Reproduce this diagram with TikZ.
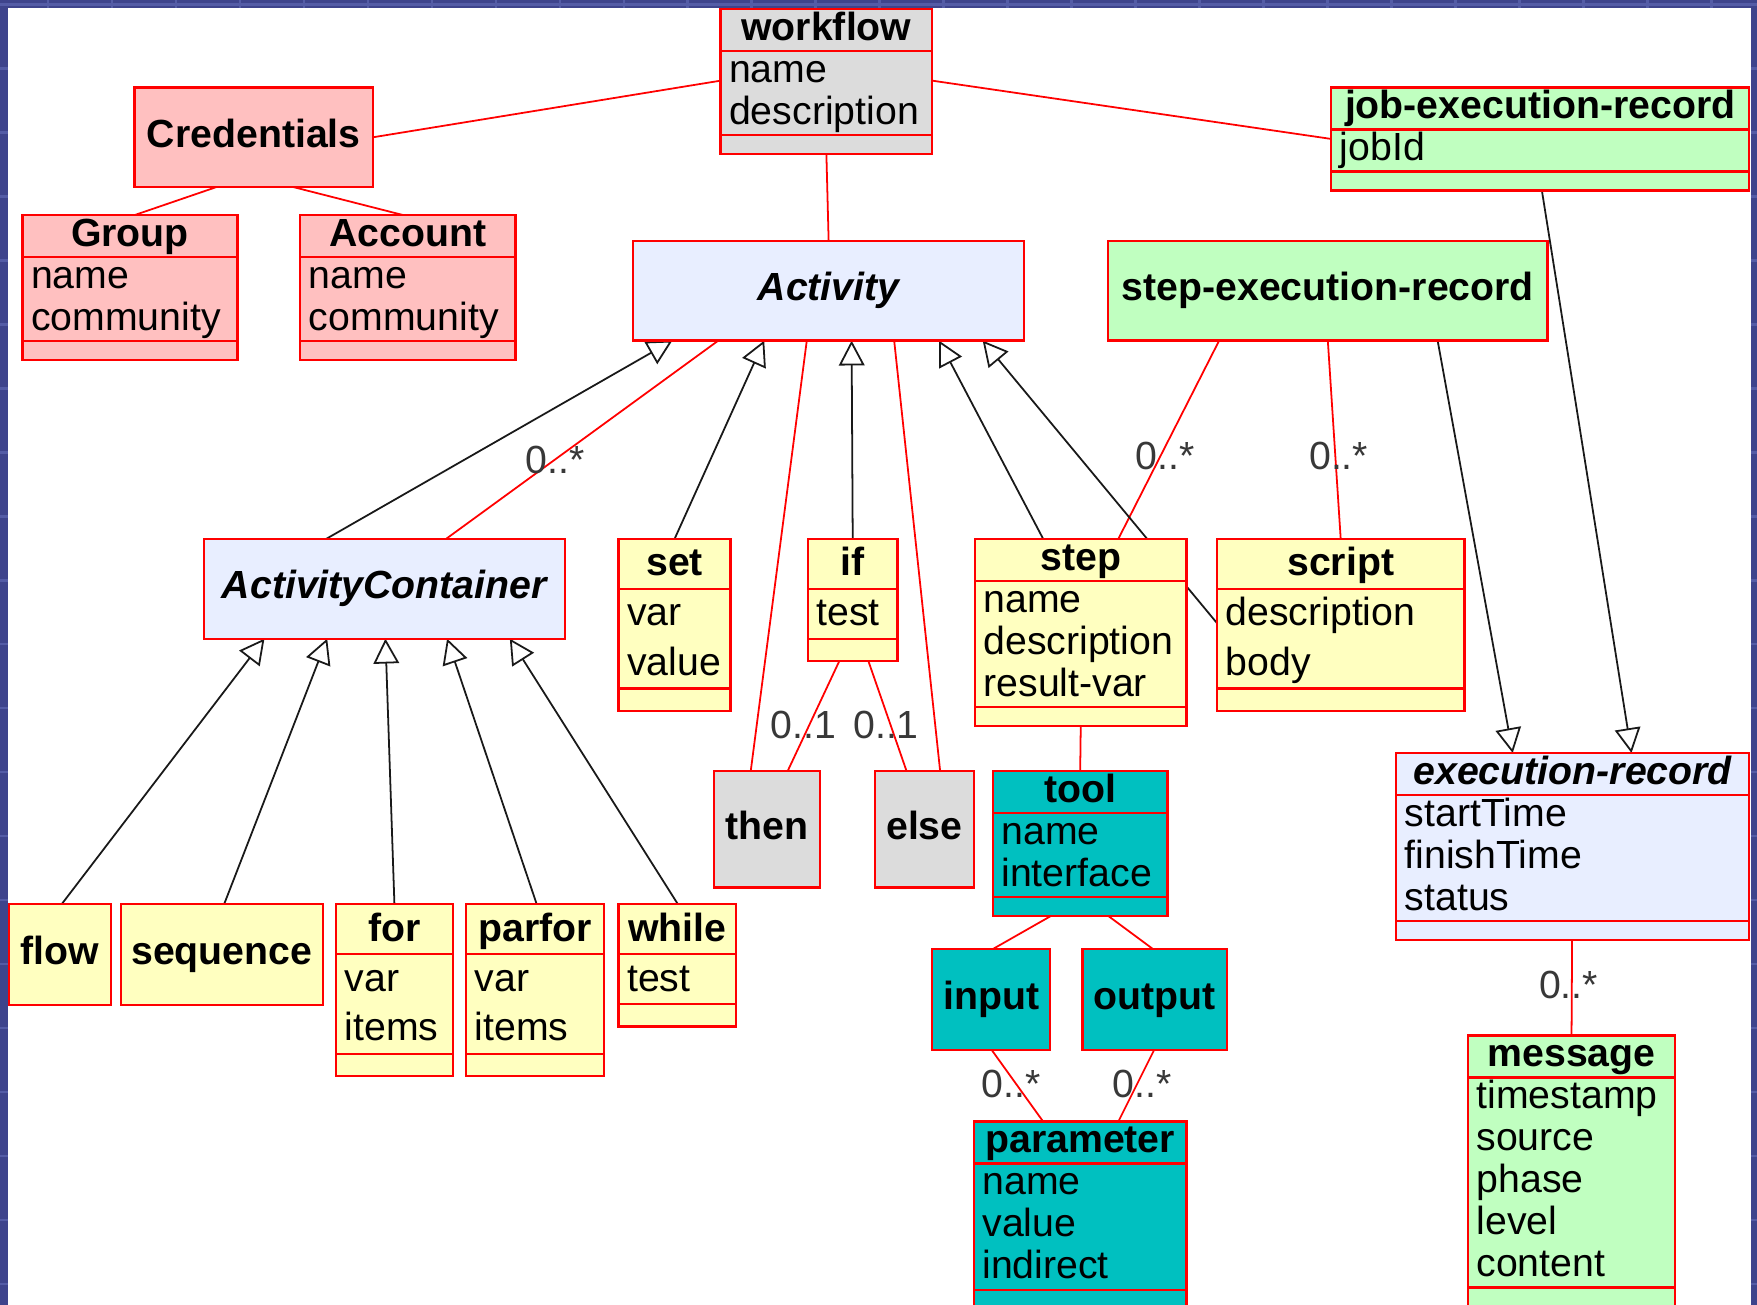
\documentclass[tikz,border=0pt]{standalone}
\usepackage{fontspec}
\setmainfont{Liberation Sans}
\usetikzlibrary{calc, arrows.meta, backgrounds}
\definecolor{umlred}{RGB}{255,0,0}
\definecolor{pinkfill}{RGB}{255,192,192}
\definecolor{grayfill}{RGB}{220,220,220}
\definecolor{bluefill}{RGB}{232,238,255}
\definecolor{yellowfill}{RGB}{255,255,192}
\definecolor{greenfill}{RGB}{192,255,192}
\definecolor{tealfill}{RGB}{0,192,192}
\definecolor{slideblue}{RGB}{62,68,140}
\definecolor{gridblue}{RGB}{84,92,166}
\definecolor{multgray}{RGB}{56,56,56}
\newcommand{\pxu}{0.01cm}
\newcommand{\classfont}{\fontsize{9.96pt}{10.67pt}\selectfont}
\tikzset{classbox/.style={draw=umlred, line width=0.6pt, inner sep=0pt, outer sep=0pt, anchor=north west},
         singlebox/.style={classbox, font=\classfont\bfseries, text height=.75em, text depth=.25em},
         compline/.style={draw=umlred, line width=0.6pt},
         classtext/.style={inner sep=0pt, font=\classfont},
         assoc/.style={draw=umlred, line width=0.45pt},
         gen/.style={draw=black!90, line width=0.45pt, -{Triangle[open, length=6.3pt, width=6.5pt]}},
         mult/.style={inner sep=0pt, font=\classfont, text=multgray},
        }
% fill, name, x, y, width, line pitch, lines, title, attributes
\newcommand{\umlclass}[9]{%
  \pgfmathsetmacro\boxh{#6*(#7+1.45)}
  \node[classbox, fill=#1, minimum width=#5*\pxu, minimum height=\boxh*\pxu] (#2) at (#3,#4) {};
  \draw[compline] ($(#2.north west)+(0,#6)$) -- ($(#2.north east)+(0,#6)$);
  \draw[compline] ($(#2.north west)+(0,{#6*(#7+1)})$) -- ($(#2.north east)+(0,{#6*(#7+1)})$);
  \node[classtext, font=\classfont\bfseries, anchor=base] at ($(#2.north)+(0,{0.74*#6})$) {#8};
  \foreach \attr [count=\i] in {#9}
    \node[classtext, anchor=base west] at ($(#2.north west)+(7,{(\i+0.74)*#6})$) {\attr};
}

\begin{document}
\begin{tikzpicture}[x=0.01cm, y=-0.01cm]
    \useasboundingbox (0,0) rectangle (1568,1164.6);
    \begin{scope}[on background layer]
        \fill[slideblue] (0,0) rectangle (1568,1164.6);
        \foreach \k in {0,...,27}{
            \draw[gridblue, line width=0.6pt] ({42.7+57.1*\k},0) -- ++(0,1165);
            \draw[gridblue, line width=0.6pt] (0,{4+57.1*\k}) -- ++(1568,0);
        }
        \fill[white] (7,7) rectangle (1563,1170);
    \end{scope}

    % classes
    \umlclass{grayfill}{wf}{643}{8}{189}{37.5}{2}{workflow}{name,description}
    \node[singlebox, fill=pinkfill, minimum width=213*\pxu, minimum height=89*\pxu] (cred) at (120,78) {Credentials};
    \umlclass{pinkfill}{grp}{20}{192}{192}{37.5}{2}{Group}{name,community}
    \umlclass{pinkfill}{acc}{268}{192}{192}{37.5}{2}{Account}{name,community}
    \umlclass{greenfill}{job}{1188}{78}{373}{37.5}{1}{job-execution-record}{jobId}
    \node[singlebox, fill=bluefill, minimum width=349*\pxu, minimum height=89*\pxu] (act) at (565,215) {\itshape Activity};
    \node[singlebox, fill=greenfill, minimum width=392*\pxu, minimum height=89*\pxu] (ser) at (989,215) {step-execution-record};
    \node[singlebox, fill=bluefill, minimum width=322*\pxu, minimum height=89*\pxu] (ac) at (182,481) {\itshape ActivityContainer};
    \umlclass{yellowfill}{set}{552}{481}{100}{44.5}{2}{set}{var,value}
    \umlclass{yellowfill}{if}{721}{481}{80}{44.5}{1}{if}{test}
    \umlclass{yellowfill}{step}{870}{481}{189}{37.5}{3}{step}{name,description,result-var}
    \umlclass{yellowfill}{script}{1086}{481}{221}{44.5}{2}{script}{description,body}
    \node[singlebox, fill=grayfill, minimum width=95*\pxu, minimum height=104*\pxu] (then) at (637,688) {then};
    \node[singlebox, fill=grayfill, minimum width=88*\pxu, minimum height=104*\pxu] (else) at (781,688) {else};
    \umlclass{tealfill}{tool}{886}{688}{156}{37.5}{2}{tool}{name,interface}
    \umlclass{bluefill}{exr}{1246}{672}{315}{37.5}{3}{\itshape execution-record}{startTime,finishTime,status}
    \node[singlebox, fill=yellowfill, minimum width=91*\pxu, minimum height=90*\pxu] (flow) at (8,807) {flow};
    \node[singlebox, fill=yellowfill, minimum width=180*\pxu, minimum height=90*\pxu] (seq) at (108,807) {sequence};
    \umlclass{yellowfill}{for}{300}{807}{104}{44.5}{2}{for}{var,items}
    \umlclass{yellowfill}{parfor}{416}{807}{123}{44.5}{2}{parfor}{var,items}
    \umlclass{yellowfill}{while}{552}{807}{105}{44.5}{1}{while}{test}
    \node[singlebox, fill=tealfill, minimum width=105*\pxu, minimum height=90*\pxu] (input) at (832,847) {input};
    \node[singlebox, fill=tealfill, minimum width=129*\pxu, minimum height=90*\pxu] (output) at (966,847) {output};
    \umlclass{tealfill}{param}{869}{1001}{190}{37.5}{3}{parameter}{name,value,indirect}
    \umlclass{greenfill}{msg}{1310}{924}{185}{37.5}{5}{message}{timestamp,source,phase,level,content}

    \begin{scope}[on background layer]
        % associations
        \draw[assoc] (cred.east) -- ($(wf.north west)+(0,64)$);
        \draw[assoc] ($(cred.south west)+(73,0)$) -- ($(grp.north west)+(100,0)$);
        \draw[assoc] ($(cred.south west)+(142,0)$) -- ($(acc.north west)+(92,0)$);
        \draw[assoc] (wf.south) -- (act.north);
        \draw[assoc] ($(wf.north east)+(0,64)$) -- ($(job.north west)+(0,46)$);
        \draw[assoc] ($(ser.south west)+(99,0)$) -- node[mult, pos=0.58, xshift=4*\pxu]{0..*} ($(step.north west)+(128,0)$);
        \draw[assoc] ($(ser.south west)+(196,0)$) -- node[mult, pos=0.58, xshift=3*\pxu]{0..*} (script.north);
        \draw[assoc] ($(exr.south west)+(157,0)$) -- node[mult, pos=0.47, xshift=-3*\pxu]{0..*} (msg.north);
        \draw[assoc] ($(ac.north west)+(216,0)$) -- node[mult, pos=0.4]{0..*} ($(act.south west)+(76,0)$);
        \draw[assoc] ($(act.south west)+(155,0)$) -- ($(then.north west)+(33,0)$);
        \draw[assoc] ($(act.south west)+(233,0)$) -- ($(else.north west)+(58,0)$);
        \draw[assoc] ($(if.south west)+(28,0)$) -- node[mult, pos=0.58, xshift=-5.6*\pxu]{0..1} ($(then.north west)+(66,0)$);
        \draw[assoc] ($(if.south west)+(54,0)$) -- node[mult, pos=0.58, xshift=-4*\pxu]{0..1} ($(else.north west)+(28,0)$);
        \draw[assoc] (step.south) -- (tool.north);
        \draw[assoc] ($(tool.south west)+(52,0)$) -- ($(input.north west)+(54,0)$);
        \draw[assoc] ($(tool.south west)+(103,0)$) -- ($(output.north west)+(63,0)$);
        \draw[assoc] ($(input.south west)+(53,0)$) -- node[mult, pos=0.48, xshift=-4.6*\pxu]{0..*} ($(param.north west)+(62,0)$);
        \draw[assoc] ($(output.south west)+(64,0)$) -- node[mult, pos=0.48, xshift=4.5*\pxu]{0..*} ($(param.north west)+(129,0)$);

        % generalisations
        \draw[gen] ($(ac.north west)+(109,0)$) -- ($(act.south west)+(35,0)$);
        \draw[gen] (set.north) -- ($(act.south west)+(117,0)$);
        \draw[gen] (if.north) -- ($(act.south west)+(195,0)$);
        \draw[gen] ($(step.north west)+(61,0)$) -- ($(act.south west)+(273,0)$);
        \draw[gen] ($(script.north west)+(0,75)$) -- ($(act.south west)+(312,0)$);
        \draw[gen] ($(job.south west)+(188,0)$) -- ($(exr.north west)+(210,0)$);
        \draw[gen] ($(ser.south west)+(294,0)$) -- ($(exr.north west)+(104,0)$);
        \draw[gen] ($(flow.north west)+(47,0)$) -- ($(ac.south west)+(54,0)$);
        \draw[gen] ($(seq.north west)+(92,0)$) -- ($(ac.south west)+(110,0)$);
        \draw[gen] ($(for.north west)+(52,0)$) -- ($(ac.south west)+(162,0)$);
        \draw[gen] ($(parfor.north west)+(63,0)$) -- ($(ac.south west)+(217,0)$);
        \draw[gen] ($(while.north west)+(53,0)$) -- ($(ac.south west)+(273,0)$);
    \end{scope}
\end{tikzpicture}
\end{document}
